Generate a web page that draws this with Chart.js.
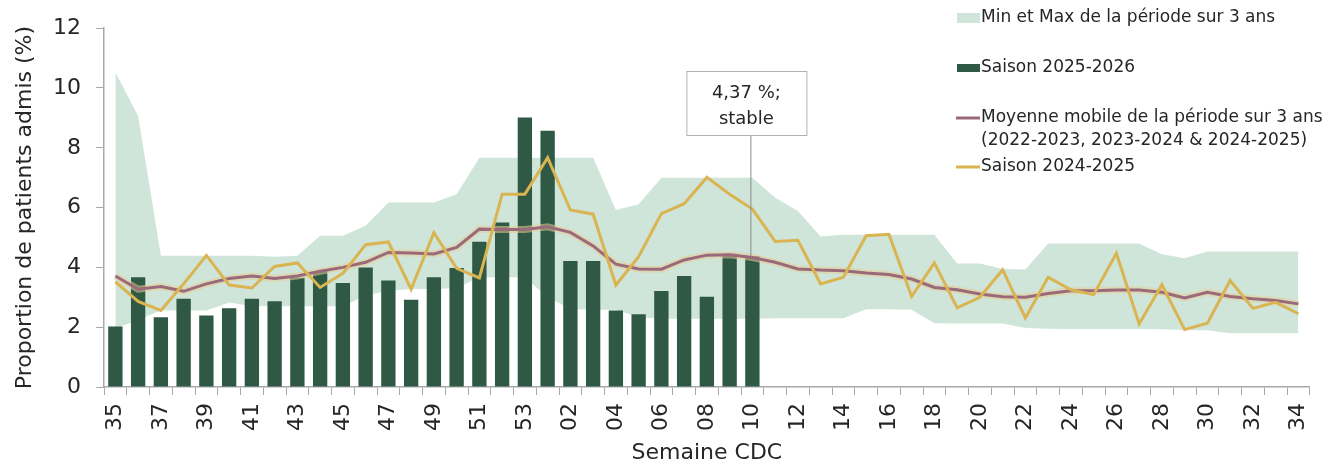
<!DOCTYPE html>
<html lang="fr">
<head>
<meta charset="utf-8">
<title>Proportion de patients admis</title>
<script src="https://cdn.jsdelivr.net/npm/chart.js@4.4.1/dist/chart.umd.min.js"></script>
<style>
  html, body { margin: 0; padding: 0; background: #fff; }
  #cadre { position: relative; width: 1333px; height: 466px; }
</style>
</head>
<body>
<div id="cadre"><canvas id="graphique"></canvas></div>
<script>
/* Données */
const semaines = ['35','36','37','38','39','40','41','42','43','44','45','46','47','48','49','50','51','52','53',
  '01','02','03','04','05','06','07','08','09','10','11','12','13','14','15','16','17','18','19','20',
  '21','22','23','24','25','26','27','28','29','30','31','32','33','34'];

// Étiquettes affichées sur l'axe des x (une semaine sur deux)
const etiquettesX = ['35','37','39','41','43','45','47','49','51','53','02','04','06','08','10',
  '12','14','16','18','20','22','24','26','28','30','32','34'];

// Saison 2025-2026 (barres)
const saison2526 = [2.02, 3.67, 2.33, 2.95, 2.39, 2.63, 2.95, 2.87, 3.65, 3.87, 3.48, 4.00, 3.56, 2.92, 3.67,
  3.98, 4.86, 5.50, 9.01, 8.57, 4.21, 4.21, 2.56, 2.43, 3.21, 3.71, 3.02, 4.46, 4.37];

// Saison 2024-2025 (ligne jaune)
const saison2425 = [3.52, 2.86, 2.56, 3.45, 4.40, 3.41, 3.31, 4.03, 4.15, 3.33, 3.80, 4.76, 4.85, 3.27, 5.16,
  3.97, 3.65, 6.45, 6.45, 7.67, 5.92, 5.78, 3.41, 4.36, 5.80, 6.13, 7.01, 6.45, 5.95, 4.87, 4.91, 3.45,
  3.67, 5.06, 5.11, 3.03, 4.15, 2.65, 3.00, 3.92, 2.31, 3.67, 3.25, 3.09, 4.47, 2.11, 3.42, 1.92, 2.13,
  3.56, 2.63, 2.83, 2.45];

// Moyenne mobile sur 3 ans
const moyenneMobile = [3.71, 3.27, 3.36, 3.20, 3.45, 3.63, 3.71, 3.63, 3.71, 3.87, 4.00, 4.17, 4.50, 4.48, 4.45,
  4.67, 5.28, 5.27, 5.27, 5.36, 5.17, 4.72, 4.11, 3.95, 3.94, 4.25, 4.41, 4.42, 4.33, 4.17, 3.95, 3.91,
  3.89, 3.81, 3.76, 3.61, 3.33, 3.25, 3.11, 3.02, 3.00, 3.13, 3.22, 3.22, 3.24, 3.24, 3.17, 2.98, 3.17,
  3.03, 2.95, 2.89, 2.78];

// Min et Max de la période sur 3 ans
const maxPeriode = [10.53, 9.06, 4.39, 4.39, 4.39, 4.39, 4.39, 4.36, 4.39, 5.06, 5.06, 5.39, 6.17, 6.17, 6.17,
  6.45, 7.67, 7.67, 7.67, 7.67, 7.67, 7.67, 5.92, 6.11, 7.00, 7.00, 7.00, 7.00, 7.00, 6.33, 5.89, 5.03,
  5.09, 5.09, 5.09, 5.09, 5.09, 4.13, 4.13, 3.95, 3.93, 4.80, 4.80, 4.80, 4.80, 4.80, 4.44, 4.31, 4.53,
  4.53, 4.53, 4.53, 4.53];
const minPeriode = [1.95, 2.25, 2.56, 2.56, 2.56, 2.83, 2.70, 2.70, 2.70, 2.70, 2.70, 3.06, 3.22, 3.28, 3.28,
  3.30, 3.67, 3.67, 3.67, 3.00, 2.61, 2.58, 2.58, 2.33, 2.28, 2.28, 2.28, 2.28, 2.28, 2.30, 2.30, 2.30,
  2.30, 2.60, 2.60, 2.58, 2.13, 2.12, 2.12, 2.12, 1.97, 1.95, 1.94, 1.94, 1.94, 1.94, 1.93, 1.91, 1.90,
  1.80, 1.80, 1.80, 1.80];

// Valeur annotée (dernière semaine)
const indexAnnote = 28;
const texteAnnote = ['4,37 %;', 'stable'];

/* Couleurs */
const couleurBande = '#cfe5da';
const couleurBarres = '#2f5944';
const couleurMoyenne = '#9a6a7b';
const couleurHalo = 'rgba(232, 205, 150, 0.55)';
const couleurSaison2425 = '#d9b451';
const couleurTexte = '#262626';
const couleurAxe = '#a8a8a8';
const police = '"DejaVu Sans", sans-serif';

/* Plugin pour la légende et l'annotation */
const legendePlugin = {
  id: 'legende',
  afterDraw(chart) {
    const ctx = chart.ctx;
    ctx.save();
    ctx.font = '17px ' + police;
    ctx.textBaseline = 'middle';
    ctx.textAlign = 'left';

    // Min et Max
    ctx.fillStyle = couleurBande;
    ctx.fillRect(957, 13, 23, 10);
    ctx.fillStyle = couleurTexte;
    ctx.fillText('Min et Max de la période sur 3 ans', 981, 18);

    // Saison 2025-2026
    ctx.fillStyle = couleurBarres;
    ctx.fillRect(957, 64, 23, 8);
    ctx.fillStyle = couleurTexte;
    ctx.fillText('Saison 2025-2026', 981, 68);

    // Moyenne mobile
    ctx.strokeStyle = couleurMoyenne;
    ctx.lineWidth = 3;
    ctx.beginPath();
    ctx.moveTo(956, 118);
    ctx.lineTo(980, 118);
    ctx.stroke();
    ctx.fillText('Moyenne mobile de la période sur 3 ans', 981, 118);
    ctx.fillText('(2022-2023, 2023-2024 & 2024-2025)', 981, 141);

    // Saison 2024-2025
    ctx.strokeStyle = couleurSaison2425;
    ctx.beginPath();
    ctx.moveTo(956, 167);
    ctx.lineTo(980, 167);
    ctx.stroke();
    ctx.fillText('Saison 2024-2025', 981, 167);

    // Annotation
    const xs = chart.scales.x;
    const ys = chart.scales.y;
    const px = xs.getPixelForValue(indexAnnote);
    const py = ys.getPixelForValue(saison2526[indexAnnote]);
    const cx = px - 6;
    ctx.strokeStyle = '#8a8a8a';
    ctx.lineWidth = 1;
    ctx.beginPath();
    ctx.moveTo(px - 1.5, 135);
    ctx.lineTo(px - 1.5, py);
    ctx.stroke();
    ctx.fillStyle = '#ffffff';
    ctx.fillRect(cx - 60, 71, 120, 64);
    ctx.strokeStyle = '#b0b0b0';
    ctx.strokeRect(cx - 60 + 0.5, 71.5, 120, 64);
    ctx.fillStyle = couleurTexte;
    ctx.textAlign = 'center';
    ctx.font = '18px ' + police;
    ctx.fillText(texteAnnote[0], cx, 93);
    ctx.fillText(texteAnnote[1], cx, 119);
    ctx.restore();
  }
};

/* Création du graphique */
function creerGraphique() {
  const ctx = document.getElementById('graphique').getContext('2d');
  new Chart(ctx, {
    type: 'bar',
    data: {
      labels: semaines,
      datasets: [
        {
          type: 'line',
          label: 'Max',
          data: maxPeriode,
          borderWidth: 0,
          pointRadius: 0,
          backgroundColor: couleurBande,
          fill: '+1',
          order: 10
        },
        {
          type: 'line',
          label: 'Min',
          data: minPeriode,
          borderWidth: 0,
          pointRadius: 0,
          fill: false,
          order: 10
        },
        {
          label: 'Saison 2025-2026',
          data: saison2526,
          backgroundColor: couleurBarres,
          barPercentage: 0.63,
          categoryPercentage: 1,
          order: 5
        },
        {
          type: 'line',
          label: 'halo',
          data: moyenneMobile,
          borderColor: couleurHalo,
          borderWidth: 7,
          pointRadius: 0,
          fill: false,
          order: 3
        },
        {
          type: 'line',
          label: 'Moyenne mobile',
          data: moyenneMobile,
          borderColor: couleurMoyenne,
          borderWidth: 3,
          pointRadius: 0,
          fill: false,
          order: 2
        },
        {
          type: 'line',
          label: 'Saison 2024-2025',
          data: saison2425,
          borderColor: couleurSaison2425,
          borderWidth: 3,
          pointRadius: 0,
          fill: false,
          order: 1
        }
      ]
    },
    options: {
      responsive: true,
      maintainAspectRatio: false,
      animation: false,
      layout: { padding: { top: 27, right: 22, left: 0, bottom: 0 } },
      plugins: {
        legend: { display: false },
        tooltip: { enabled: false }
      },
      scales: {
        x: {
          grid: { offset: true, drawOnChartArea: false, tickLength: 8, color: couleurAxe },
          border: { color: couleurAxe, width: 1.5 },
          ticks: {
            autoSkip: false,
            minRotation: 90,
            maxRotation: 90,
            padding: 8,
            color: couleurTexte,
            font: { family: police, size: 22 },
            callback: function (val, i) {
              const lab = semaines[i];
              return etiquettesX.includes(lab) ? lab : '';
            }
          },
          title: {
            display: true,
            text: 'Semaine CDC',
            color: couleurTexte,
            font: { family: police, size: 22 },
            padding: { top: 0, bottom: 0 }
          },
          afterFit: function (scale) { scale.height = 79; }
        },
        y: {
          min: 0,
          max: 12,
          ticks: {
            stepSize: 2,
            padding: 15,
            color: couleurTexte,
            font: { family: police, size: 22 }
          },
          grid: { drawOnChartArea: false, tickLength: 8, color: couleurAxe },
          border: { color: couleurAxe, width: 1.5 },
          title: {
            display: true,
            text: 'Proportion de patients admis (%)',
            color: couleurTexte,
            font: { family: police, size: 22 },
            padding: { top: 12, bottom: 0 }
          },
          afterFit: function (scale) { scale.width = 104; }
        }
      }
    },
    plugins: [legendePlugin]
  });
}

creerGraphique();
</script>
</body>
</html>
